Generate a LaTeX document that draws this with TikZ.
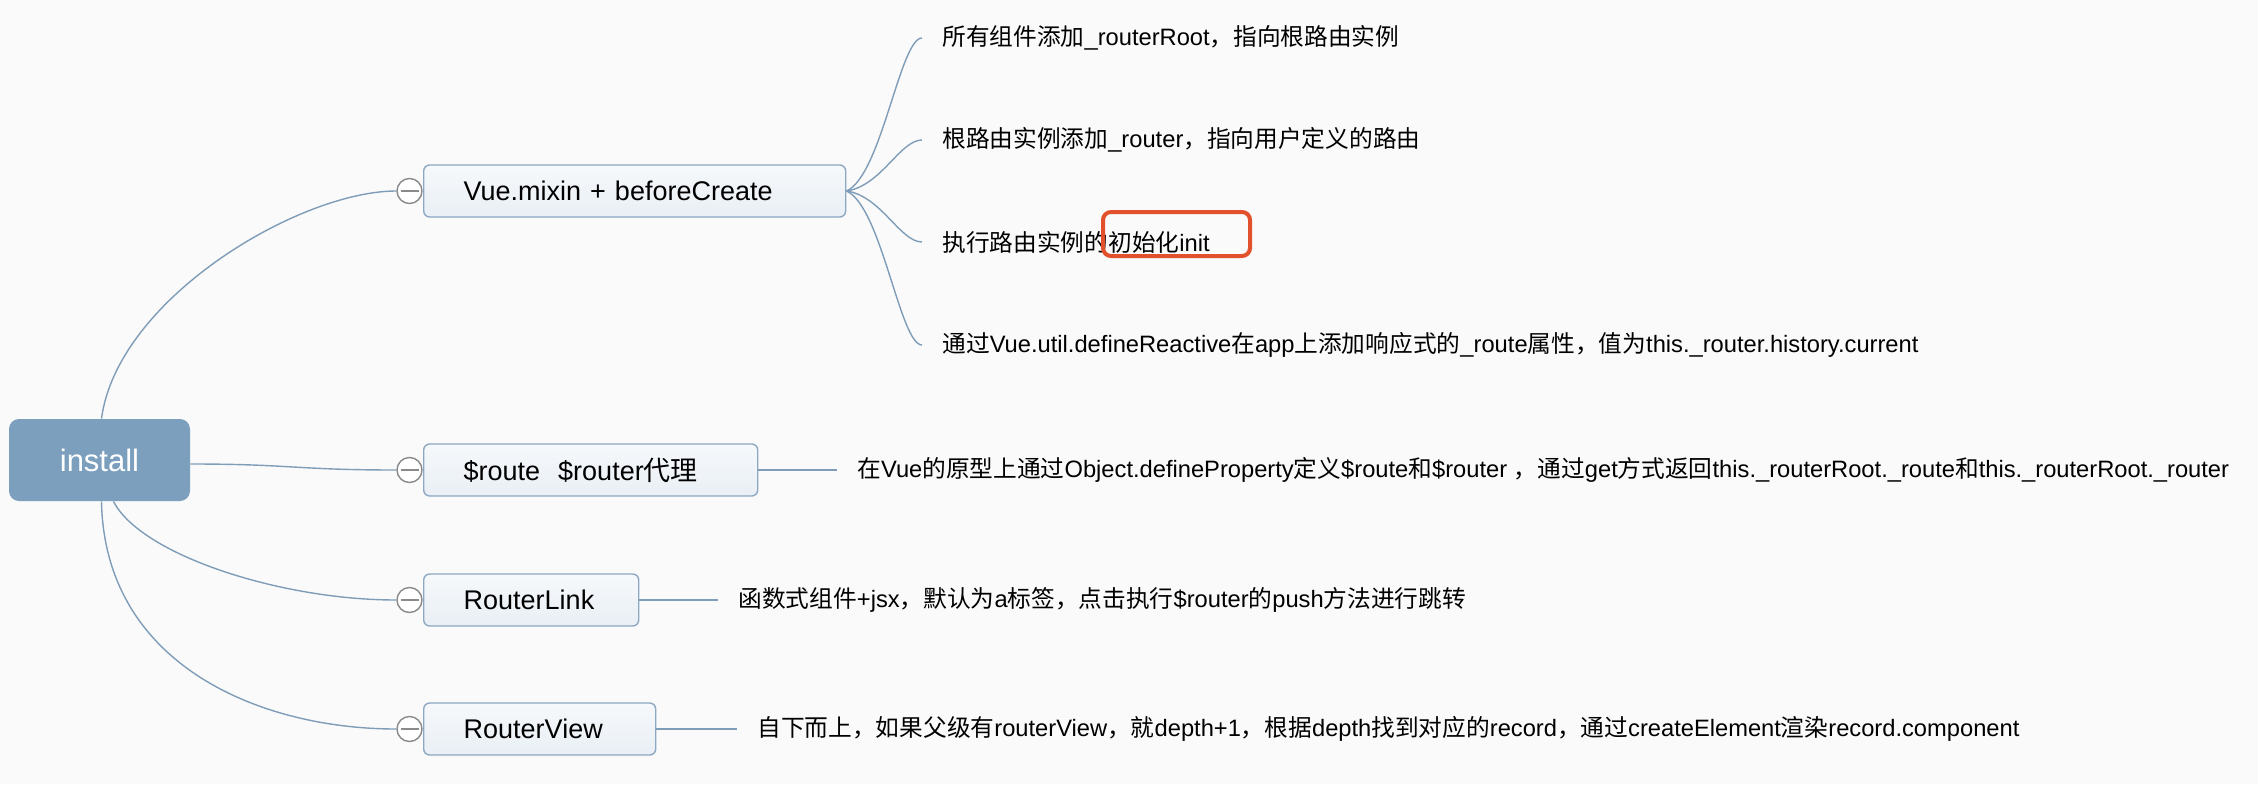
\documentclass[tikz,border=0pt]{standalone}
\usepackage{fontspec}
\setmainfont{Liberation Sans}
\newfontfamily\zhfont{Noto Sans CJK SC}
\newcommand\zh[1]{{\zhfont #1}}
\definecolor{mmBack}{HTML}{FAFAFA}
\definecolor{mmLine}{HTML}{7F9DB8}
\definecolor{mmRoot}{HTML}{7B9FBC}
\definecolor{mmTopic}{HTML}{E9EFF5}
\definecolor{mmEdge}{HTML}{8DA8C2}
\definecolor{mmKnob}{HTML}{8A8A8A}
\definecolor{mmMark}{HTML}{E2512B}
\tikzset{
  mm branch/.style={draw=mmLine, line width=0.7pt},
  mm root/.style={rectangle, rounded corners=5pt, fill=mmRoot, text=white, minimum width=90.5pt, minimum height=41pt, font=\fontsize{15.5}{18}\selectfont},
  mm topic/.style={rectangle, rounded corners=3pt, draw=mmEdge, line width=0.7pt, top color=mmTopic!40!white, bottom color=mmTopic, anchor=west, inner xsep=20pt, inner ysep=2pt, minimum height=26pt, align=left, font=\fontsize{13.5}{16}\selectfont},
  mm knob/.style={circle, draw=mmKnob, fill=white, line width=0.7pt, minimum size=12.5pt, inner sep=0pt,
    path picture={\draw[mmKnob, line width=0.7pt] ([xshift=-4.5pt]path picture bounding box.center) -- ([xshift=4.5pt]path picture bounding box.center);}},
  mm leaf/.style={anchor=west, inner xsep=10pt, inner ysep=2pt, font=\fontsize{11.85}{14}\selectfont},
  mm mark/.style={draw=mmMark, line width=2pt, rounded corners=4pt},
}
\begin{document}
\begin{tikzpicture}[x=0.5pt,y=0.5pt]
  \fill[mmBack] (0,0) rectangle (2258,784);
  \useasboundingbox (0,0) rectangle (2258,784);

  \node[mm root] (install) at (99.5,324) {install};

  \node[mm topic, text width=171pt] (mix) at (423,593) {Vue.mixin + beforeCreate};
  \node[mm topic, text width=127pt] (proto) at (423,314) {\$route\ \ \$router\zh{代理}};
  \node[mm topic, text width=67.5pt] (link) at (423,184) {RouterLink};
  \node[mm topic, text width=76pt] (view) at (423,55) {RouterView};

  \node[mm knob] (k1) at (409.5,593) {};
  \node[mm knob] (k2) at (409.5,314) {};
  \node[mm knob] (k3) at (409.5,184) {};
  \node[mm knob] (k4) at (409.5,55) {};

  \node[mm leaf] (l1) at (922,746) {\zh{所有组件添加}\_routerRoot\zh{，指向根路由实例}};
  \node[mm leaf] (l2) at (922,644) {\zh{根路由实例添加}\_router\zh{，指向用户定义的路由}};
  \node[mm leaf] (l3) at (922,542) {\zh{执行路由实例的初始化}init};
  \node[mm leaf] (l4) at (922,439) {\zh{通过}Vue.util.defineReactive\zh{在}app\zh{上添加响应式的}\_route\zh{属性，值为}this.\_router.history.current};
  \node[mm leaf] (p1) at (837,314) {\zh{在}Vue\zh{的原型上通过}Object.defineProperty\zh{定义}\$route\zh{和}\$router \zh{，通过}get\zh{方式返回}this.\_routerRoot.\_route\zh{和}this.\_routerRoot.\_router};
  \node[mm leaf] (r1) at (718,184) {\zh{函数式组件}+jsx\zh{，默认为}a\zh{标签，点击执行}\$router\zh{的}push\zh{方法进行跳转}};
  \node[mm leaf] (v1) at (737,55) {\zh{自下而上，如果父级有}routerView\zh{，就}depth+1\zh{，根据}depth\zh{找到对应的}record\zh{，通过}createElement\zh{渲染}record.component};

  \draw[mm branch] ([xshift=1pt]install.north) .. controls +(16,120) and +(-97,0) .. (k1.west);
  \draw[mm branch] ([yshift=-2pt]install.east) .. controls +(100,0) and +(-100,0) .. (k2.west);
  \draw[mm branch] ([xshift=7pt]install.south) .. controls +(27,-53) and +(-117,0) .. (k3.west);
  \draw[mm branch] ([xshift=1pt]install.south) .. controls +(3,-163) and +(-137,0) .. (k4.west);

  \draw[mm branch] (mix.east) .. controls +(35,15) and +(-22,0) .. (l1.west);
  \draw[mm branch] (mix.east) .. controls +(35,5) and +(-22,0) .. (l2.west);
  \draw[mm branch] (mix.east) .. controls +(35,-5) and +(-22,0) .. (l3.west);
  \draw[mm branch] (mix.east) .. controls +(35,-15) and +(-22,0) .. (l4.west);
  \draw[mm branch] (proto.east) -- (p1.west);
  \draw[mm branch] (link.east) -- (r1.west);
  \draw[mm branch] (view.east) -- (v1.west);

  \draw[mm mark] ([shift={(181,-14)}]l3.west) rectangle ([shift={(328,30)}]l3.west);
\end{tikzpicture}
\end{document}
